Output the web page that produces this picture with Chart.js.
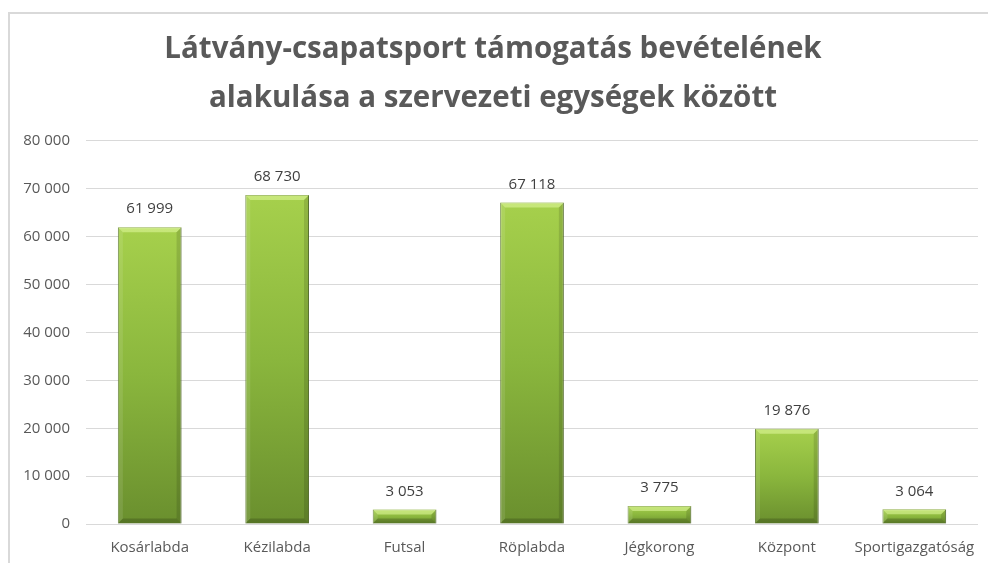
<!DOCTYPE html>
<html>
<head>
<meta charset="utf-8">
<script src="https://cdn.jsdelivr.net/npm/chart.js@4"></script>
<style>
  body { margin: 0; background: #fff; }
  #frame { position: absolute; left: 8px; top: 12px; width: 1000px; height: 600px;
           border-left: 2px solid #d9d9d9; border-top: 2px solid #d9d9d9; }
  #wrap { position: absolute; left: 0; top: 0; width: 988px; height: 563px; }
</style>
</head>
<body>
<div id="frame"></div>
<div id="wrap"><canvas id="supportChart" width="988" height="563"></canvas></div>
<script>
var categories = ['Kosárlabda', 'Kézilabda', 'Futsal', 'Röplabda', 'Jégkorong', 'Központ', 'Sportigazgatóság'];
var revenue = [61999, 68730, 3053, 67118, 3775, 19876, 3064];
var titleLines = ['Látvány-csapatsport támogatás bevételének', 'alakulása a szervezeti egységek között'];

function fmt(v) {
    return String(v).replace(/\B(?=(\d{3})+(?!\d))/g, ' ');
}

function barFill(c) {
    var chart = c.chart;
    if (!chart.chartArea || c.raw === undefined) return '#8db83f';
    var y = chart.scales.y;
    var top = y.getPixelForValue(c.raw);
    var bottom = y.getPixelForValue(0);
    var g = chart.ctx.createLinearGradient(0, top, 0, bottom);
    g.addColorStop(0, '#a6d04c');
    g.addColorStop(0.5, '#8ab63d');
    g.addColorStop(1, '#6a8f2e');
    return g;
}

// bevel edges and value labels above the bars
var barExtras = {
    id: 'barExtras',
    afterDatasetsDraw: function (chart) {
        var ctx = chart.ctx;
        var meta = chart.getDatasetMeta(0);
        ctx.save();
        meta.data.forEach(function (bar, i) {
            var l = bar.x - bar.width / 2, r = bar.x + bar.width / 2;
            var t = bar.y, b = bar.base;
            var e = Math.min(5, (b - t) / 2);
            ctx.fillStyle = 'rgba(225,250,160,0.55)';
            ctx.beginPath();
            ctx.moveTo(l, t); ctx.lineTo(r, t); ctx.lineTo(r - e, t + e); ctx.lineTo(l + e, t + e);
            ctx.closePath(); ctx.fill();
            ctx.fillStyle = 'rgba(255,255,255,0.10)';
            ctx.beginPath();
            ctx.moveTo(l, t); ctx.lineTo(l + e, t + e); ctx.lineTo(l + e, b - e); ctx.lineTo(l, b);
            ctx.closePath(); ctx.fill();
            ctx.fillStyle = 'rgba(0,0,0,0.12)';
            ctx.beginPath();
            ctx.moveTo(r, t); ctx.lineTo(r - e, t + e); ctx.lineTo(r - e, b - e); ctx.lineTo(r, b);
            ctx.closePath(); ctx.fill();
            ctx.fillStyle = 'rgba(0,0,0,0.18)';
            ctx.beginPath();
            ctx.moveTo(l, b); ctx.lineTo(l + e, b - e); ctx.lineTo(r - e, b - e); ctx.lineTo(r, b);
            ctx.closePath(); ctx.fill();

            ctx.fillStyle = '#404040';
            ctx.font = '15px "Open Sans"';
            ctx.textAlign = 'center';
            ctx.textBaseline = 'middle';
            ctx.fillText(fmt(revenue[i]), bar.x, t - 18);
        });
        ctx.restore();
    }
};

var chart = new Chart(document.getElementById('supportChart'), {
    type: 'bar',
    data: {
        labels: categories,
        datasets: [{
            data: revenue,
            backgroundColor: barFill,
            borderColor: 'rgba(85,115,35,0.9)',
            borderWidth: 1,
            categoryPercentage: 1,
            barPercentage: 0.5
        }]
    },
    options: {
        responsive: false,
        animation: false,
        layout: { padding: { left: 8, right: 10, top: 0, bottom: 0 } },
        plugins: {
            legend: { display: false },
            tooltip: { enabled: false },
            title: {
                display: true,
                text: titleLines,
                color: '#595959',
                font: { family: 'Open Sans', size: 29.5, weight: 'bold', lineHeight: 1.66 },
                padding: { top: 25.5, bottom: 17.5 }
            }
        },
        scales: {
            x: {
                grid: { display: false },
                border: { display: false },
                ticks: { color: '#595959', font: { family: 'Open Sans', size: 15 }, padding: 7 },
                afterFit: function (s) { s.height = 39; }
            },
            y: {
                min: 0,
                max: 80000,
                grid: { color: '#d9d9d9', drawTicks: false },
                border: { display: false },
                ticks: {
                    stepSize: 10000,
                    color: '#595959',
                    font: { family: 'Open Sans', size: 15 },
                    padding: 16,
                    callback: function (v) { return fmt(v); }
                },
                afterFit: function (s) { s.width = 78; }
            }
        }
    },
    plugins: [barExtras]
});
</script>
</body>
</html>
